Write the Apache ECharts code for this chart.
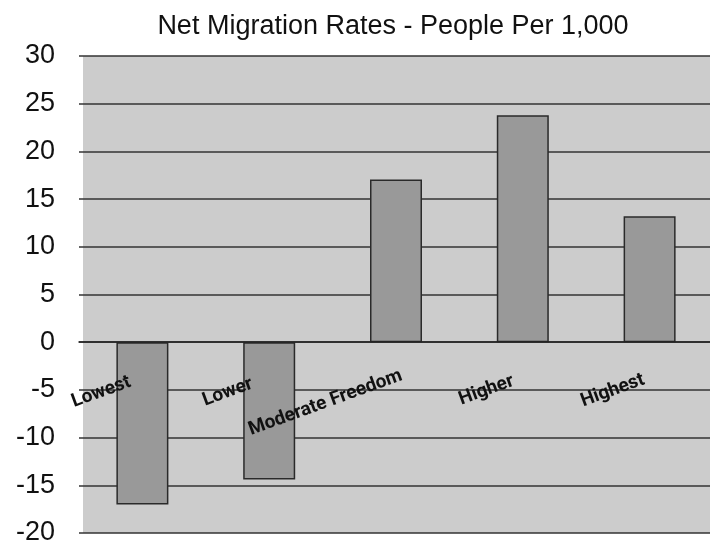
<!DOCTYPE html>
<html>
<head>
<meta charset="utf-8">
<script src="https://cdn.jsdelivr.net/npm/echarts@6/dist/echarts.min.js"></script>
<style>
  html, body { margin: 0; padding: 0; background: #ffffff; }
  #chart { width: 710px; height: 548px; }
</style>
</head>
<body>
<div id="chart"></div>
<script>
const titleText = 'Net Migration Rates - People Per 1,000';
const categories = ['Lowest', 'Lower', 'Moderate Freedom', 'Higher', 'Highest'];
const netMigration = [-17.0, -14.4, 17.05, 23.8, 13.2];
const yMin = -20, yMax = 30, yStep = 5;

// per-label nudges (padding: top, right, bottom, left)
const labelPads = [
  [0, 13, 9, 0],
  [0, 18, 12, 0],
  [18, -6, 0, 0],
  [0, 10, 9, 0],
  [0, 6, 5, 0]
];

const gridTop = 56, gridHeight = 477;
const zeroOffset = -gridHeight * (0 - yMin) / (yMax - yMin);

const chart = echarts.init(document.getElementById('chart'), null, { renderer: 'canvas' });

const option = {
  animation: false,
  backgroundColor: '#ffffff',
  title: {
    text: titleText,
    left: 393,
    top: 13,
    padding: 0,
    textAlign: 'center',
    textStyle: {
      fontFamily: 'Liberation Sans, Arial, sans-serif',
      fontSize: 27,
      fontWeight: 'normal',
      color: '#111111'
    }
  },
  graphic: [{
    type: 'rect',
    z: -10,
    silent: true,
    shape: { x: 83, y: gridTop, width: 640, height: gridHeight },
    style: { fill: '#cccccc' }
  }],
  grid: {
    left: 79,
    top: gridTop,
    width: 634,
    height: gridHeight,
    containLabel: false,
    outerBoundsMode: 'none'
  },
  xAxis: {
    type: 'category',
    position: 'bottom',
    offset: zeroOffset,
    z: 10,
    data: categories.map((c, i) => ({
      value: c,
      textStyle: { padding: labelPads[i] }
    })),
    axisLine: { show: true, onZero: false, lineStyle: { color: '#222222', width: 1.5 } },
    axisTick: { show: false },
    axisLabel: {
      interval: 0,
      rotate: 20,
      margin: 35,
      hideOverlap: false,
      fontFamily: 'Roboto, Liberation Sans, sans-serif',
      fontWeight: 'bold',
      fontSize: 19,
      color: '#111111'
    },
    splitLine: { show: false }
  },
  yAxis: {
    type: 'value',
    min: yMin,
    max: yMax,
    interval: yStep,
    axisLine: { show: false },
    axisTick: { show: false },
    axisLabel: {
      margin: 24,
      fontFamily: 'Liberation Sans, Arial, sans-serif',
      fontSize: 27,
      color: '#111111'
    },
    splitLine: { show: true, lineStyle: { color: '#333333', width: 1.5 } }
  },
  series: [{
    type: 'bar',
    data: netMigration,
    barWidth: 52,
    itemStyle: {
      color: '#999999',
      borderColor: '#2a2a2a',
      borderWidth: 1.5
    }
  }]
};

chart.setOption(option);
</script>
</body>
</html>
